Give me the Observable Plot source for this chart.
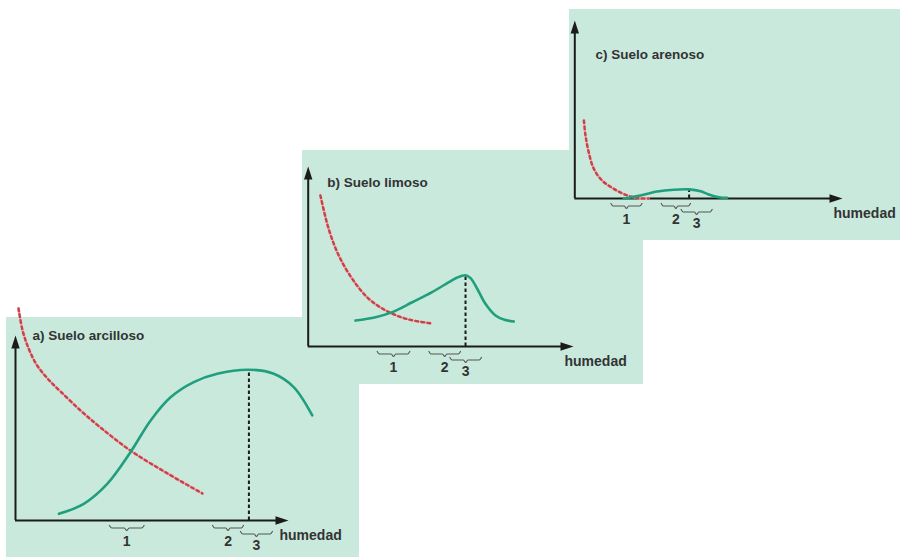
<!DOCTYPE html>
<html>
<head>
<meta charset="utf-8">
<script src="https://cdn.jsdelivr.net/npm/d3@7"></script>
<script src="https://cdn.jsdelivr.net/npm/@observablehq/plot@0.6"></script>
<style>
  html, body { margin: 0; background: #ffffff; }
  #figure { position: relative; width: 900px; height: 557px; overflow: hidden; }
  .panel { position: absolute; background: #c9e9dd; }
  .panel svg { overflow: visible; display: block; }
</style>
</head>
<body>
<div id="figure"></div>
<script>
// Adhesion (solid) and cohesion (dashed) against soil moisture.
// Both axes run 0–100 from the origin to the arrow tip.

// a) clay soil
const clayAdhesionX = [15.9, 25.0, 33.6, 42.1, 49.5, 56.8, 65.3, 73.9, 85.5, 94.6, 101.9, 108.7];
const clayAdhesionY = [3.6, 9.0, 19.8, 36.9, 54.1, 66.6, 74.8, 79.3, 81.5, 79.3, 72.1, 56.8];
const clayCohesionX = [1.1, 2.6, 4.8, 7.7, 11.7, 16.5, 23.8, 31.1, 42.1, 55.7, 68.5];
const clayCohesionY = [114.6, 102.7, 93.0, 84.3, 76.8, 69.7, 59.5, 50.3, 37.8, 25.4, 14.6];
const clayRanges = [[34.4, 47.1], [72.2, 83.5], [82.4, 94.1]];

// b) silt soil
const siltAdhesionX = [17.8, 25.4, 31.7, 39.2, 46.7, 53.0, 56.0, 59.3, 61.2, 63.7, 66.8, 70.6, 74.0, 77.5];
const siltAdhesionY = [14.4, 16.3, 19.1, 24.6, 30.2, 35.7, 38.2, 39.6, 38.0, 32.1, 23.7, 17.2, 14.8, 13.9];
const siltCohesionX = [4.6, 7.7, 11.5, 16.6, 22.8, 30.4, 37.9, 46.1];
const siltCohesionY = [83.9, 65.4, 50.6, 37.6, 26.5, 19.1, 15.0, 12.9];
const siltRanges = [[26.0, 38.3], [45.5, 57.4], [53.4, 65.3]];

// c) sandy soil
const sandAdhesionX = [18.3, 24.5, 30.8, 37.0, 42.7, 47.0, 49.5, 53.8, 56.9];
const sandAdhesionY = [0.0, 1.7, 3.9, 4.9, 5.1, 4.1, 2.6, 0.7, 0.4];
const sandCohesionX = [3.4, 4.0, 5.2, 7.1, 10.2, 14.6, 19.6, 23.9, 27.6];
const sandCohesionY = [43.8, 35.4, 26.0, 16.7, 10.1, 5.4, 1.7, 0.2, 0.0];
const sandRanges = [[13.5, 25.1], [32.3, 43.2], [39.7, 51.3]];

const rangeLabels = ["1", "2", "3"];
const axisLabel = "humedad";
const titles = ["a) Suelo arcilloso", "b) Suelo limoso", "c) Suelo arenoso"];

// Panel boxes on the page and the axis frame inside each one
const layout = [
  {left: 6,   top: 317, width: 353, height: 240, m: [18, 71, 37, 9],   titleDx: 17, titleDy: -5},
  {left: 302, top: 150, width: 341, height: 234, m: [16, 70, 38, 5.7], titleDx: 19, titleDy: 11.3},
  {left: 569, top: 9,   width: 331, height: 231, m: [11, 58, 42, 5.3], titleDx: 20.7, titleDy: 29.3}
];
const braceRow = [0, 0, 1];

const green = "#1f9f7b";
const redDash = "#c4444a";
const redHalo = "#f2bcbc";
const ink = "#1b1b1b";
const textInk = "#333333";
const font = "'Liberation Sans', Arial, sans-serif";

const zip = (xs, ys) => xs.map((x, i) => ({x, y: ys[i]}));

function panel(i, adhesion, cohesion, ranges) {
  const L = layout[i];
  const [mt, mr, mb, ml] = L.m;
  const pxX = (L.width - ml - mr) / 100;   // pixels per x unit
  const pxY = (L.height - mt - mb) / 100;  // pixels per y unit
  const down = (px) => -px / pxY;          // pixels below the axis -> y units

  // curly braces under the moisture axis
  const shape = [[0, -1], [0.07, 0], [0.43, 0], [0.5, 1], [0.57, 0], [0.93, 0], [1, -1]];
  const braces = ranges.flatMap(([x0, x1], k) => {
    const top = braceRow[k] ? 11 : 5, depth = 2.5;
    return shape.map(([t, s]) => ({k, x: x0 + t * (x1 - x0), y: down(top + depth + s * depth)}));
  });
  const labels = ranges.map(([x0, x1], k) => ({
    x: (x0 + x1) / 2,
    y: down(braceRow[k] ? 25.5 : 21),
    text: rangeLabels[k]
  }));

  // the maximum of adhesion marks the sticky point
  const peak = d3.greatest(adhesion, d => d.y);

  const chart = Plot.plot({
    width: L.width,
    height: L.height,
    marginTop: mt, marginRight: mr, marginBottom: mb, marginLeft: ml,
    x: {domain: [0, 100], axis: null},
    y: {domain: [0, 100], axis: null},
    style: {background: "none", overflow: "visible", fontFamily: font},
    marks: [
      // axes with filled arrowheads
      Plot.ruleY([0], {x1: 0, x2: 100 - 6 / pxX, stroke: ink, strokeWidth: 2}),
      Plot.ruleX([0], {y1: 0, y2: 100 - 6 / pxY, stroke: ink, strokeWidth: 2}),
      Plot.vector([{x: 100, y: 0}], {x: "x", y: "y", rotate: 90, length: 13, r: 4.2, shape: "spike", anchor: "end", fill: ink, stroke: "none"}),
      Plot.vector([{x: 0, y: 100}], {x: "x", y: "y", rotate: 0, length: 13, r: 4.2, shape: "spike", anchor: "end", fill: ink, stroke: "none"}),
      // cohesion
      Plot.line(cohesion, {x: "x", y: "y", curve: "catmull-rom", stroke: redHalo, strokeWidth: 2.8}),
      Plot.line(cohesion, {x: "x", y: "y", curve: "catmull-rom", stroke: redDash, strokeWidth: 2.4, strokeDasharray: "2.8 3.2"}),
      // adhesion and its maximum
      Plot.ruleX([peak], {x: "x", y1: 0, y2: "y", stroke: ink, strokeWidth: 2, strokeDasharray: "3.5 2.5"}),
      Plot.line(adhesion, {x: "x", y: "y", curve: "catmull-rom", stroke: green, strokeWidth: 2.6, strokeLinecap: "round"}),
      // moisture ranges
      Plot.line(braces, {x: "x", y: "y", z: "k", curve: "monotone-x", stroke: "#555555", strokeWidth: 1.2}),
      Plot.text(labels, {x: "x", y: "y", text: "text", fontSize: 14, fontWeight: "bold", fill: textInk}),
      Plot.text([axisLabel], {x: 100, y: 0, text: d => d, dx: -9, dy: 15.5, textAnchor: "start", fontSize: 14, fontWeight: "bold", fill: textInk}),
      Plot.text([titles[i]], {frameAnchor: "top-left", text: d => d, dx: L.titleDx, dy: L.titleDy, textAnchor: "start", fontSize: 13.5, fontWeight: "bold", fill: textInk})
    ]
  });

  const box = document.createElement("div");
  box.className = "panel";
  Object.assign(box.style, {left: L.left + "px", top: L.top + "px", width: L.width + "px", height: L.height + "px"});
  box.appendChild(chart);
  document.getElementById("figure").appendChild(box);
}

panel(0, zip(clayAdhesionX, clayAdhesionY), zip(clayCohesionX, clayCohesionY), clayRanges);
panel(1, zip(siltAdhesionX, siltAdhesionY), zip(siltCohesionX, siltCohesionY), siltRanges);
panel(2, zip(sandAdhesionX, sandAdhesionY), zip(sandCohesionX, sandCohesionY), sandRanges);
</script>
</body>
</html>
